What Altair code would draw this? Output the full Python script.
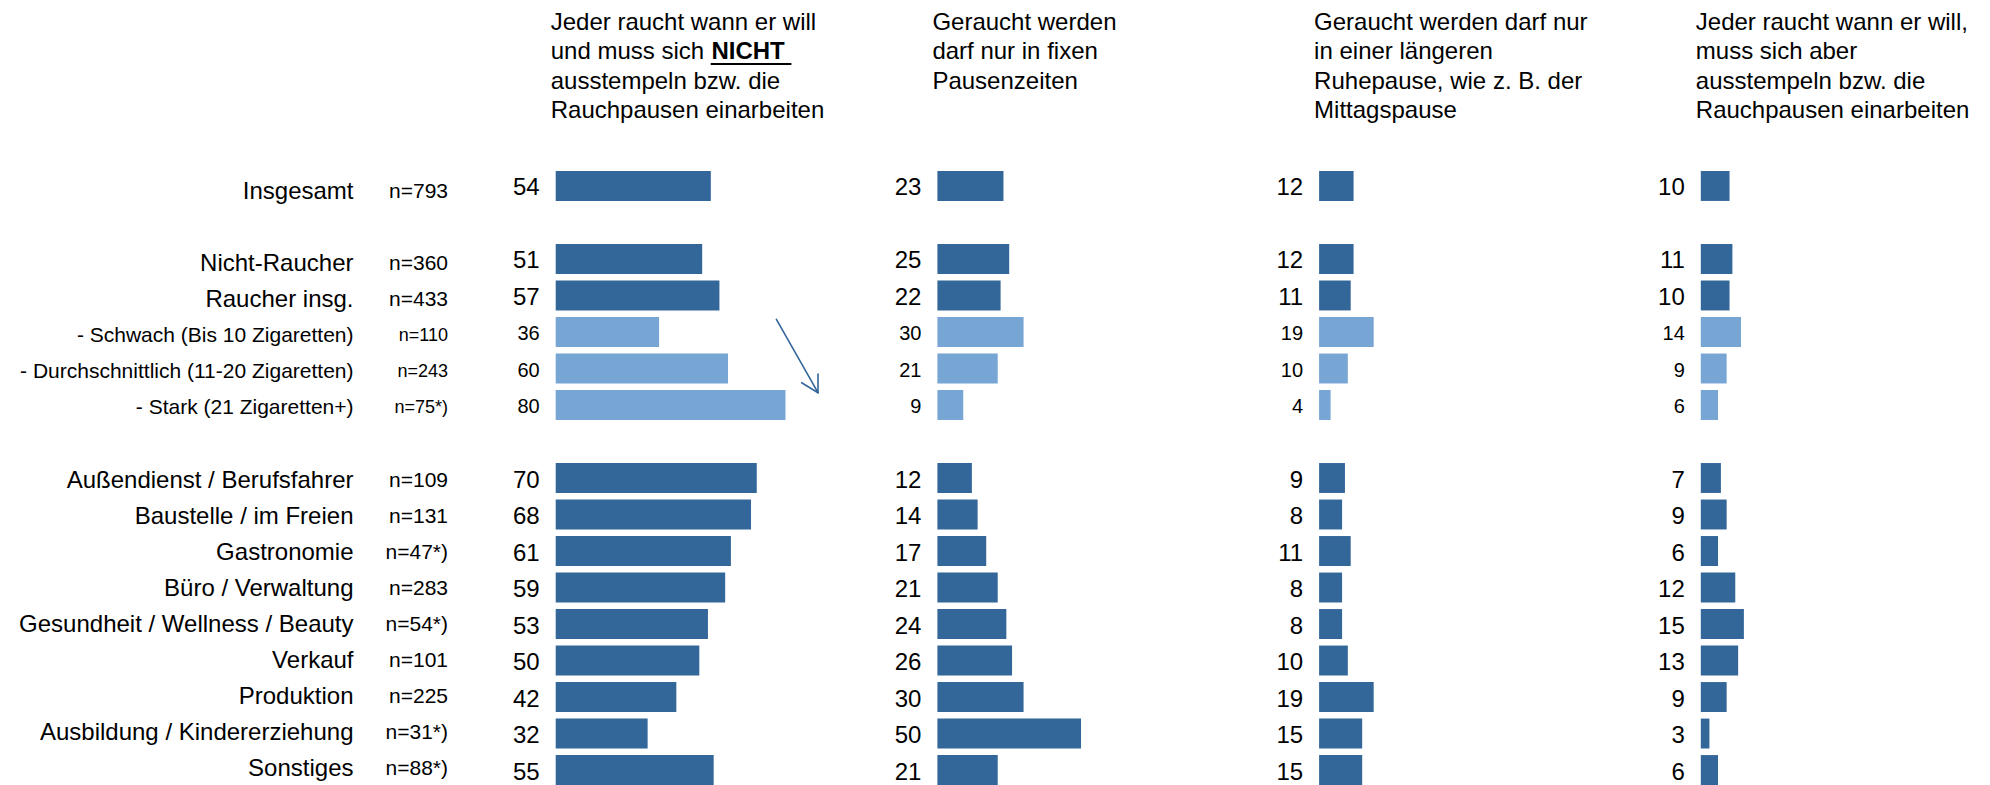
import altair as alt
import pandas as pd

# ---------------- data ----------------
categories = [
    "Insgesamt",
    "Nicht-Raucher",
    "Raucher insg.",
    "- Schwach (Bis 10 Zigaretten)",
    "- Durchschnittlich (11-20 Zigaretten)",
    "- Stark (21 Zigaretten+)",
    "Außendienst / Berufsfahrer",
    "Baustelle / im Freien",
    "Gastronomie",
    "Büro / Verwaltung",
    "Gesundheit / Wellness / Beauty",
    "Verkauf",
    "Produktion",
    "Ausbildung / Kindererziehung",
    "Sonstiges",
]
n_labels = ["n=793", "n=360", "n=433", "n=110", "n=243", "n=75*)", "n=109", "n=131",
            "n=47*)", "n=283", "n=54*)", "n=101", "n=225", "n=31*)", "n=88*)"]
groups = ["main", "main", "main", "sub", "sub", "sub",
          "main", "main", "main", "main", "main", "main", "main", "main", "main"]

v_nicht_ausstempeln = [54, 51, 57, 36, 60, 80, 70, 68, 61, 59, 53, 50, 42, 32, 55]
v_fixe_pausen = [23, 25, 22, 30, 21, 9, 12, 14, 17, 21, 24, 26, 30, 50, 21]
v_ruhepause = [12, 12, 11, 19, 10, 4, 9, 8, 11, 8, 8, 10, 19, 15, 15]
v_ausstempeln = [10, 11, 10, 14, 9, 6, 7, 9, 6, 12, 15, 13, 9, 3, 6]

row_order = (categories[:1] + [" "] + categories[1:6] + ["  "] + categories[6:])

headers = [
    ["Jeder raucht wann er will", "und muss sich", "ausstempeln bzw. die", "Rauchpausen einarbeiten"],
    ["Geraucht werden", "darf nur in fixen", "Pausenzeiten"],
    ["Geraucht werden darf nur", "in einer längeren", "Ruhepause, wie z. B. der", "Mittagspause"],
    ["Jeder raucht wann er will,", "muss sich aber", "ausstempeln bzw. die", "Rauchpausen einarbeiten"],
]
emph_word = "NICHT"

series = [v_nicht_ausstempeln, v_fixe_pausen, v_ruhepause, v_ausstempeln]

df = pd.DataFrame({"cat": categories, "n": n_labels, "group": groups})
for i, s in enumerate(series):
    df[f"v{i}"] = s

# ---------------- styling ----------------
FONT = "Arial, Liberation Sans, sans-serif"
DARK = "#336699"
LIGHT = "#77a5d4"
H = 777
PANEL_W = 270
SPACING = 111.7
LABEL_W = 435.3
SUB = "datum.group === 'sub'"
HEAD_Y = 22
HEAD_LH = 29.3
TXT_DY = 2.5

yscale = alt.Scale(domain=row_order, range=[163, 777], paddingInner=0.18, paddingOuter=0)
Y = alt.Y("cat:N", scale=yscale, axis=None)
one = pd.DataFrame({"h": [0]})


def header_layer(lines):
    return alt.Chart(one).mark_text(
        text=lines, align="left", baseline="alphabetic", fontSize=24, lineHeight=HEAD_LH,
        font=FONT, color="black"
    ).encode(x=alt.value(-5), y=alt.value(HEAD_Y))


def panel(k):
    base = alt.Chart(df)
    bars = base.mark_bar().encode(
        x=alt.X(f"v{k}:Q", scale=alt.Scale(domain=[0, 94]), axis=None),
        y=Y,
        color=alt.Color("group:N", scale=alt.Scale(domain=["main", "sub"], range=[DARK, LIGHT]), legend=None),
    )
    vals = base.mark_text(align="right", baseline="middle", dx=-16, dy=TXT_DY, font=FONT, color="black").encode(
        x=alt.value(0),
        y=Y,
        text=alt.Text(f"v{k}:Q"),
        size=alt.condition(SUB, alt.value(20), alt.value(24)),
    )
    layers = [bars, vals, header_layer(headers[k])]
    if k == 0:
        layers.append(
            alt.Chart(one).mark_text(
                text=emph_word, align="left", baseline="alphabetic", fontSize=24,
                fontWeight="bold", font=FONT, color="black"
            ).encode(x=alt.value(155.7), y=alt.value(HEAD_Y + HEAD_LH))
        )
        uy = HEAD_Y + HEAD_LH + 4.7
        layers.append(
            alt.Chart(one).mark_rule(color="black", strokeWidth=2).encode(
                x=alt.value(155), x2=alt.value(235.7), y=alt.value(uy), y2=alt.value(uy))
        )
        arrow = [((220.7, 311.3), (262.3, 384.7)),
                 ((262.3, 366.0), (262.3, 384.7)),
                 ((246.0, 374.7), (262.3, 384.7))]
        for (xa, ya), (xb, yb) in arrow:
            layers.append(
                alt.Chart(one).mark_rule(color="#336699", strokeWidth=1.6, strokeCap="round").encode(
                    x=alt.value(xa), y=alt.value(ya), x2=alt.value(xb), y2=alt.value(yb))
            )
    return alt.layer(*layers).properties(width=PANEL_W, height=H)


label_base = alt.Chart(df)
cat_text = label_base.mark_text(align="right", baseline="middle", dy=TXT_DY, font=FONT, color="black").encode(
    x=alt.value(345.5), y=Y, text="cat:N",
    size=alt.condition(SUB, alt.value(21), alt.value(24)),
)
n_text = label_base.mark_text(align="right", baseline="middle", dy=TXT_DY, font=FONT, color="black").encode(
    x=alt.value(440), y=Y, text="n:N",
    size=alt.condition(SUB, alt.value(18), alt.value(21)),
)
label_panel = alt.layer(cat_text, n_text).properties(width=LABEL_W, height=H)

chart = alt.hconcat(
    label_panel, panel(0), panel(1), panel(2), panel(3),
    spacing=SPACING, bounds="flush"
).properties(padding=0).configure_view(strokeWidth=0)

chart.save("out.html", embed_options={"renderer": "svg", "actions": False})
